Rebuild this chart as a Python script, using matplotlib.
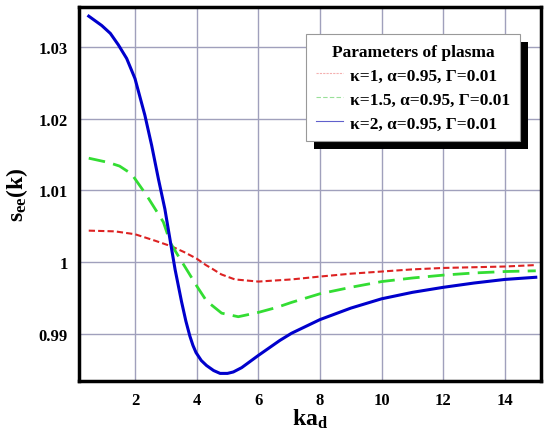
import numpy as np
import matplotlib
matplotlib.use('Agg')
import matplotlib.pyplot as plt
from matplotlib.lines import Line2D
from matplotlib.patches import Rectangle

# values
x_k1 = [0.5, 1.35, 2.0, 2.65, 3.19, 3.6, 4.0, 4.3, 4.5, 4.8, 5.24, 6.0, 7.08, 8.0, 9.0, 10.0, 11.0, 12.0, 13.0, 14.0, 15.0]
s_k1 = [1.0044, 1.0043, 1.0039, 1.0030, 1.0022, 1.0014, 1.0005, 0.9996, 0.9991, 0.9983, 0.9976, 0.9973, 0.9976, 0.9980, 0.9984, 0.9987, 0.9990, 0.9992, 0.9993, 0.9994, 0.9996]

x_k15 = [0.5, 1.14, 1.5, 1.89, 2.38, 2.92, 3.15, 3.4, 3.73, 4.0, 4.32, 4.81, 5.35, 6.0, 6.6, 7.08, 8.0, 9.0, 10.0, 11.0, 12.0, 13.0, 14.0, 15.0]
s_k15 = [1.0145, 1.0139, 1.0134, 1.0123, 1.0093, 1.0056, 1.0027, 1.0009, 0.9986, 0.9967, 0.9946, 0.9929, 0.9924, 0.9930, 0.9937, 0.9944, 0.9956, 0.9965, 0.9973, 0.9978, 0.9982, 0.9985, 0.9987, 0.9988]

x_k2 = [0.5, 0.92, 1.2, 1.46, 1.73, 2.0, 2.32, 2.54, 2.76, 2.97, 3.17, 3.3, 3.51, 3.65, 3.78, 3.88, 3.98, 4.15, 4.32, 4.55, 4.76, 5.0, 5.19, 5.46, 6.0, 6.7, 7.08, 8.0, 9.0, 10.0, 11.0, 12.0, 13.0, 14.0, 15.0]
s_k2 = [1.0343, 1.0330, 1.0319, 1.0303, 1.0284, 1.0256, 1.0205, 1.0163, 1.0116, 1.0074, 1.0023, 0.9990, 0.9945, 0.9918, 0.9897, 0.9884, 0.9874, 0.9863, 0.9856, 0.9849, 0.9845, 0.9845, 0.9847, 0.9853, 0.9870, 0.9891, 0.9901, 0.9920, 0.9936, 0.9949, 0.9958, 0.9965, 0.9971, 0.9976, 0.9979]

labels = ['κ=1, α=0.95, Γ=0.01', 'κ=1.5, α=0.95, Γ=0.01', 'κ=2, α=0.95, Γ=0.01']
xticks = [2, 4, 6, 8, 10, 12, 14]
yticks = [0.99, 1.0, 1.01, 1.02, 1.03]
ytick_labels = ['0.99', '1', '1.01', '1.02', '1.03']

plt.rcParams['font.family'] = 'Liberation Serif'
plt.rcParams['font.weight'] = 'bold'
plt.rcParams['mathtext.fontset'] = 'custom'
plt.rcParams['mathtext.rm'] = 'Liberation Serif:bold'
plt.rcParams['mathtext.bf'] = 'Liberation Serif:bold'
plt.rcParams['mathtext.it'] = 'Liberation Serif:bold'

fig = plt.figure(figsize=(5.44, 4.35), dpi=100)
ax = fig.add_axes([0.145, 0.122, 0.8495, 0.86])

ax.plot(x_k1, s_k1, color='#dd2222', lw=1.5, dashes=(3, 1.5))
ax.plot(x_k15, s_k15, color='#33dd33', lw=2.0, dashes=(6, 3))
ax.plot(x_k2, s_k2, color='#0000cc', lw=2.2)

ax.set_xlim(0.18, 15.17)
ax.set_ylim(0.98345, 1.0356)
ax.set_xticks(xticks)
ax.set_yticks(yticks)
ax.set_yticklabels(ytick_labels)
ax.tick_params(length=0, labelsize=12, pad=8)
for lab in ax.get_xticklabels() + ax.get_yticklabels():
    lab.set_fontweight('bold')
ax.grid(True, color='#a0a0bc', lw=1.0)
ax.set_axisbelow(True)
for sp in ax.spines.values():
    sp.set_linewidth(2.5)

ax.set_xlabel(r'$\mathrm{ka_d}$', fontsize=17, labelpad=-1)
ax.set_ylabel(r'$\mathrm{s_{ee}(k)}$', fontsize=17, labelpad=6)

handles = [Line2D([], [], color='#f4b0b0', lw=0.8, dashes=(2, 1)),
           Line2D([], [], color='#99e099', lw=0.8, dashes=(4, 2)),
           Line2D([], [], color='#6060cc', lw=0.8)]
leg = ax.legend(handles, labels, title='Parameters of plasma', loc='upper left',
                bbox_to_anchor=(306 / 544, 1 - 35 / 435), bbox_transform=fig.transFigure,
                borderaxespad=0, frameon=True, fancybox=False, edgecolor='#999999',
                framealpha=1, fontsize=12.5, title_fontsize=12.5, handlelength=1.6,
                handletextpad=0.4, borderpad=0.55, labelspacing=0.45)
leg.get_title().set_fontweight('bold')
leg.get_frame().set_linewidth(0.8)
leg.set_zorder(5)

# black drop shadow behind the legend box
fig.canvas.draw()
bb = leg.get_window_extent()
shadow = Rectangle((bb.x0 + 8, bb.y0 - 8), bb.width, bb.height, transform=None,
                   facecolor='black', edgecolor='none', zorder=4)
ax.add_artist(shadow)

fig.savefig('out.png', dpi=100)
